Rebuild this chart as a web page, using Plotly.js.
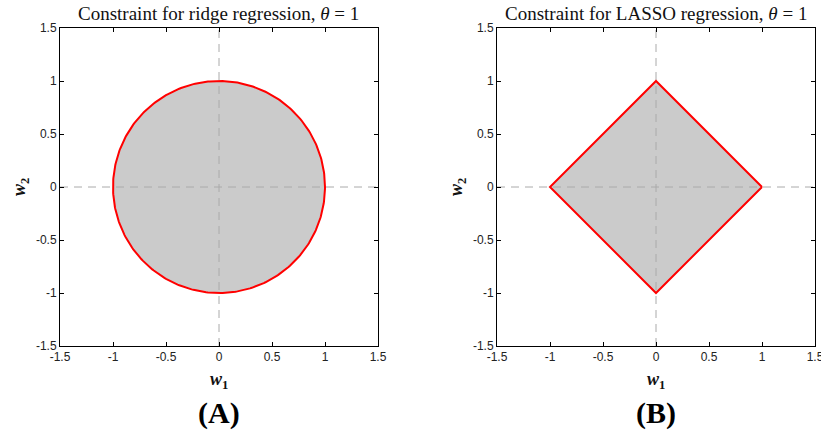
<!DOCTYPE html>
<html><head><meta charset="utf-8">
<script src="https://cdn.plot.ly/plotly-3.0.1.min.js"></script>
<style>html,body{margin:0;padding:0;background:#fff;}#chart{width:821px;height:433px;}</style>
</head><body><div id="chart"></div>
<script>
// Constraint radius
const theta = 1;
// Axis ticks
const tickVals = [-1.5, -1, -0.5, 0, 0.5, 1, 1.5];
const tickText = ["-1.5", "-1", "-0.5", "0", "0.5", "1", "1.5"];
const axisRange = [-1.5, 1.5];
// LASSO diamond vertices (|w1|+|w2| = theta)
const lassoX = [theta, 0, -theta, 0, theta];
const lassoY = [0, theta, 0, -theta, 0];
// Ridge circle (w1^2 + w2^2 = theta^2), sampled by angle
const nPts = 361;
const ridgeX = [], ridgeY = [];
for (let i = 0; i < nPts; i++) {
  const a = 2 * Math.PI * i / (nPts - 1);
  ridgeX.push(theta * Math.cos(a));
  ridgeY.push(theta * Math.sin(a));
}
const panelTitles = ["Constraint for ridge regression, <i>θ</i> = 1", "Constraint for LASSO regression, <i>θ</i> = 1"];
const panelLabels = ["<b>(A)</b>", "<b>(B)</b>"];

const W = 821, H = 433;
const boxes = [{x0: 60, x1: 378}, {x0: 497, x1: 815}];
const yTop = 28, yBot = 346;

const fillCol = "#cbcbcb", red = "#ff0000", dashCol = "#aaaaaa";
const traces = [];
const shapes = [[ridgeX, ridgeY], [lassoX, lassoY]];
shapes.forEach((s, i) => {
  const xa = i === 0 ? "x" : "x2", ya = i === 0 ? "y" : "y2";
  traces.push({x: s[0], y: s[1], xaxis: xa, yaxis: ya, mode: "lines", fill: "toself",
    fillcolor: fillCol, line: {width: 0, color: fillCol}, hoverinfo: "skip", showlegend: false});
  traces.push({x: axisRange, y: [0, 0], xaxis: xa, yaxis: ya, mode: "lines",
    line: {color: dashCol, width: 1, dash: "8px,6px"}, showlegend: false});
  traces.push({x: [0, 0], y: axisRange, xaxis: xa, yaxis: ya, mode: "lines",
    line: {color: dashCol, width: 1, dash: "8px,6px"}, showlegend: false});
  traces.push({x: s[0], y: s[1], xaxis: xa, yaxis: ya, mode: "lines",
    line: {color: red, width: 2}, showlegend: false});
});

function ax(domain, anchor) {
  return {domain: domain, anchor: anchor, range: axisRange, tickvals: tickVals, ticktext: tickText,
    ticks: "inside", ticklen: 4, tickcolor: "#000", showline: true, linecolor: "#000", linewidth: 1,
    mirror: "allticks", showgrid: false, zeroline: false, fixedrange: true, ticklabeloverflow: "allow",
    tickfont: {family: "Liberation Sans, Arial, sans-serif", size: 12, color: "#222"}};
}
const yd = [(H - yBot) / H, (H - yTop) / H];
const layout = {
  width: W, height: H, margin: {l: 0, r: 0, t: 0, b: 0},
  paper_bgcolor: "#fff", plot_bgcolor: "#fff", showlegend: false,
  xaxis: ax([boxes[0].x0 / W, boxes[0].x1 / W], "y"),
  yaxis: ax(yd, "x"),
  xaxis2: ax([boxes[1].x0 / W, boxes[1].x1 / W], "y2"),
  yaxis2: ax(yd, "x2"),
  annotations: []
};
const serif = "Liberation Serif, Times New Roman, serif";
boxes.forEach((b, i) => {
  const cx = (b.x0 + b.x1) / 2;
  layout.annotations.push({xref: "paper", yref: "paper", x: cx / W, y: (H - 13) / H, text: panelTitles[i],
    showarrow: false, xanchor: "center", yanchor: "middle", font: {family: serif, size: 19, color: "#111"}});
  layout.annotations.push({xref: "paper", yref: "paper", x: cx / W, y: (H - 380) / H,
    text: "<b><i>w</i></b><sub><b>1</b></sub>",
    showarrow: false, xanchor: "center", yanchor: "middle", font: {family: serif, size: 18, color: "#111"}});
  layout.annotations.push({xref: "paper", yref: "paper", x: (b.x0 - 40) / W, y: (H - 187) / H,
    text: "<b><i>w</i></b><sub><b>2</b></sub>", textangle: -90,
    showarrow: false, xanchor: "center", yanchor: "middle", font: {family: serif, size: 18, color: "#111"}});
  layout.annotations.push({xref: "paper", yref: "paper", x: cx / W, y: (H - 413) / H, text: panelLabels[i],
    showarrow: false, xanchor: "center", yanchor: "middle", font: {family: serif, size: 30, color: "#000"}});
});
Plotly.newPlot("chart", traces, layout, {staticPlot: true, displayModeBar: false});
</script>
</body></html>
